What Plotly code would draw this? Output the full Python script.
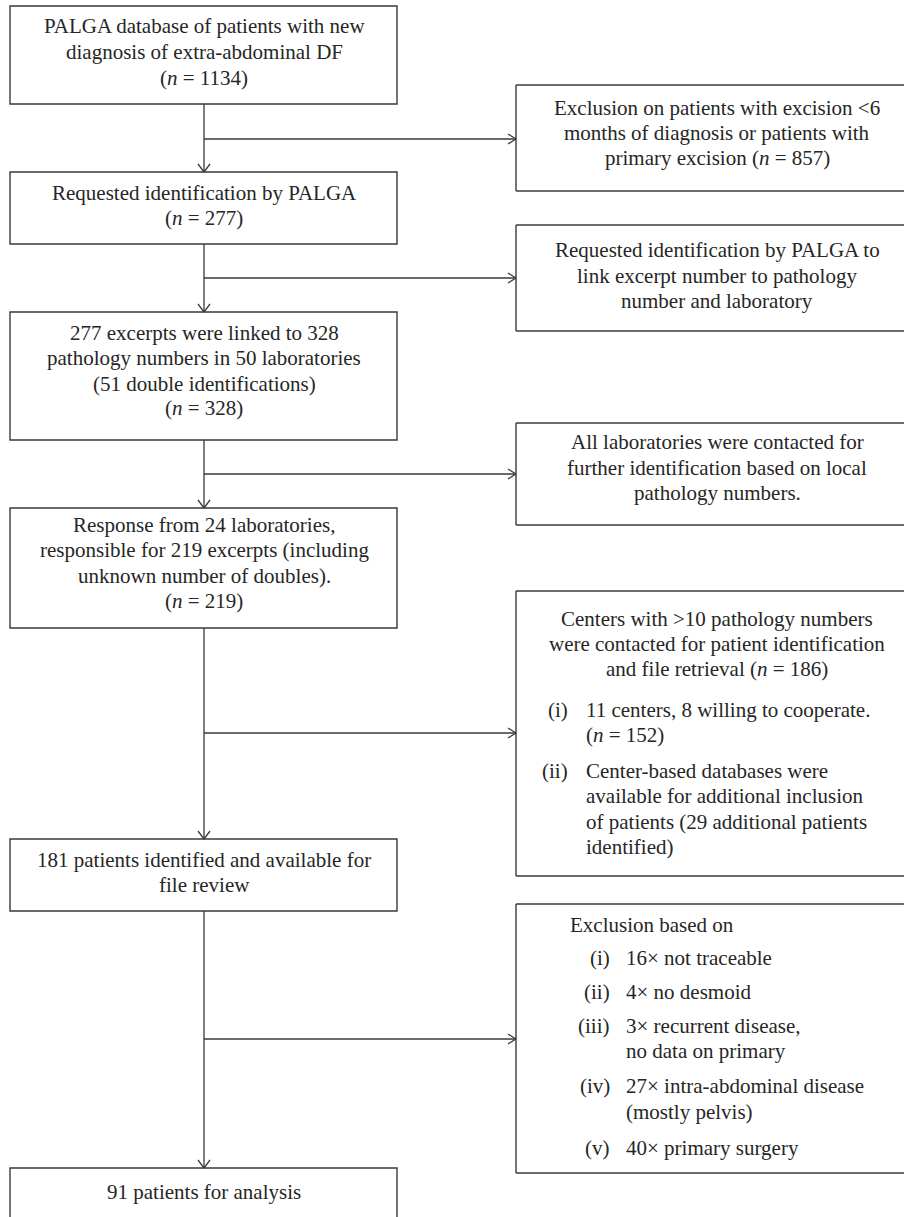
import plotly.graph_objects as go

# ---------------- content (text) ----------------
main_steps = [
    ["PALGA database of patients with new", "diagnosis of extra-abdominal DF", "(<i>n</i> = 1134)"],
    ["Requested identification by PALGA", "(<i>n</i> = 277)"],
    ["277 excerpts were linked to 328", "pathology numbers in 50 laboratories",
     "(51 double identifications)", "(<i>n</i> = 328)"],
    ["Response from 24 laboratories,", "responsible for 219 excerpts (including",
     "unknown number of doubles).", "(<i>n</i> = 219)"],
    ["181 patients identified and available for", "file review"],
    ["91 patients for analysis"],
]
side_steps = [
    ["Exclusion on patients with excision &lt;6", "months of diagnosis or patients with",
     "primary excision (<i>n</i> = 857)"],
    ["Requested identification by PALGA to", "link excerpt number to pathology",
     "number and laboratory"],
    ["All laboratories were contacted for", "further identification based on local",
     "pathology numbers."],
]
centers_header = ["Centers with &gt;10 pathology numbers",
                  "were contacted for patient identification",
                  "and file retrieval (<i>n</i> = 186)"]
centers_labels = ["(i)", "(ii)"]
centers_items = [["11 centers, 8 willing to cooperate.", "(<i>n</i> = 152)"],
                 ["Center-based databases were", "available for additional inclusion",
                  "of patients (29 additional patients", "identified)"]]
exclusion_header = ["Exclusion based on"]
exclusion_labels = ["(i)", "(ii)", "(iii)", "(iv)", "(v)"]
exclusion_items = [["16× not traceable"], ["4× no desmoid"],
                   ["3× recurrent disease,", "no data on primary"],
                   ["27× intra-abdominal disease", "(mostly pelvis)"],
                   ["40× primary surgery"]]

# ---------------- layout geometry ----------------
W, H = 904, 1217
LX0, LX1, LXC = 10, 397, 204
RX0, RX1, RXC = 516, 904, 717
main_y = [(6, 104), (172, 244), (312, 440), (508, 628), (839, 911), (1168, 1240)]
main_base = [[33, 59, 85], [200, 225], [340, 365, 391, 415], [532, 557, 583, 608],
             [867, 892], [1199]]
side_y = [(85, 191), (225, 331), (423, 525), (591, 876), (904, 1173)]
side_base = [[115, 140, 165], [257, 283, 308], [449, 475, 500]]
branch_y = [139, 278, 474, 733, 1039]
centers_header_base = [626, 651, 676]
centers_item_base = [[717, 742], [778, 803, 829, 854]]
excl_header_base = [932]
excl_item_base = [[965], [999], [1033, 1058], [1093, 1119], [1155]]

FONT = "Liberation Serif"
FS = 21
TXT = "#262626"
LINE = "#3a3a3a"
OFF = 7  # baseline -> visual middle

fig = go.Figure()
shapes = []
annos = []


def box(x0, x1, y0, y1):
    shapes.append(dict(type="rect", x0=x0, x1=x1, y0=y0, y1=y1, xref="x", yref="y",
                       line=dict(color=LINE, width=1.4), fillcolor="rgba(0,0,0,0)"))


def seg(x0, y0, x1, y1, w=1.3):
    shapes.append(dict(type="line", x0=x0, x1=x1, y0=y0, y1=y1, xref="x", yref="y",
                       line=dict(color=LINE, width=w)))


def open_box(x0, x1, y0, y1):
    # box running off the right edge of the page (no right border)
    seg(x0, y0, x1, y0, 1.4)
    seg(x0, y1, x1, y1, 1.4)
    seg(x0, y0, x0, y1, 1.4)


def text(x, yb, s, anchor="center"):
    annos.append(dict(x=x, y=yb - OFF, text=s, showarrow=False, xref="x", yref="y",
                      xanchor=anchor, yanchor="middle",
                      font=dict(family=FONT, size=FS, color=TXT)))


# main boxes
for (y0, y1), lines, bases in zip(main_y, main_steps, main_base):
    box(LX0, LX1, y0, y1)
    for s, b in zip(lines, bases):
        text(LXC, b, s)

# side boxes
for (y0, y1) in side_y:
    open_box(RX0, RX1, y0, y1)
for lines, bases in zip(side_steps, side_base):
    for s, b in zip(lines, bases):
        text(RXC, b, s)

for s, b in zip(centers_header, centers_header_base):
    text(RXC, b, s)
for lab, items, bases in zip(centers_labels, centers_items, centers_item_base):
    text(570, bases[0], lab, "right")
    for s, b in zip(items, bases):
        text(584, b, s, "left")

for s, b in zip(exclusion_header, excl_header_base):
    text(568, b, s, "left")
for lab, items, bases in zip(exclusion_labels, exclusion_items, excl_item_base):
    text(612, bases[0], lab, "right")
    for s, b in zip(items, bases):
        text(624, b, s, "left")

# connectors
AH_W, AH_L = 6, 8
for i in range(5):
    ya = main_y[i][1]
    yb = main_y[i + 1][0]
    seg(LXC, ya, LXC, yb)
    seg(LXC - AH_W, yb - AH_L, LXC, yb)
    seg(LXC + AH_W, yb - AH_L, LXC, yb)
    by = branch_y[i]
    seg(LXC, by, RX0, by)
    seg(RX0 - AH_L, by - AH_W + 1, RX0, by)
    seg(RX0 - AH_L, by + AH_W - 1, RX0, by)

fig.update_layout(
    width=W, height=H, margin=dict(l=0, r=0, t=0, b=0),
    paper_bgcolor="white", plot_bgcolor="white",
    xaxis=dict(range=[0, W], visible=False, fixedrange=True),
    yaxis=dict(range=[H, 0], visible=False, fixedrange=True),
    shapes=shapes, annotations=annos, showlegend=False,
)
fig.write_html("out.html", config={"displayModeBar": False},
               post_script="document.body.style.margin='0';document.body.style.overflow='hidden';")
